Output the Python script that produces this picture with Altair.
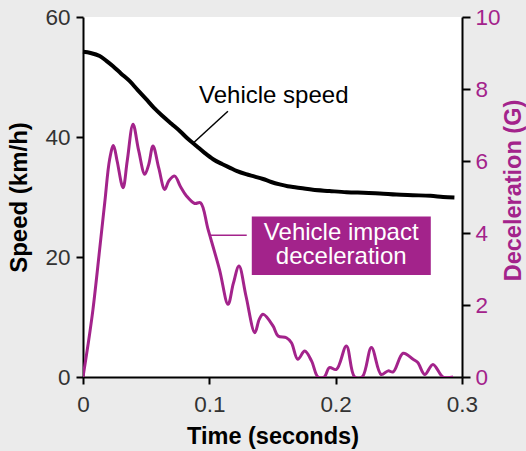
import altair as alt
import pandas as pd

MAG = "#a3238b"
FONT = "Liberation Sans"

# Vehicle speed (km/h) vs time (s)
speed_t = [0.0, 0.006, 0.0132, 0.0185, 0.0238, 0.030, 0.037, 0.043, 0.050, 0.056, 0.063,
           0.070, 0.0766, 0.083, 0.0898, 0.096, 0.103, 0.110, 0.116, 0.122, 0.129, 0.136,
           0.1425, 0.149, 0.1557, 0.162, 0.169, 0.175, 0.182, 0.195, 0.2086, 0.222, 0.235,
           0.248, 0.261, 0.275, 0.285, 0.294]
speed_v = [54.2, 54.0, 53.5, 52.7, 51.8, 50.6, 49.3, 47.9, 46.3, 44.9, 43.5,
           42.2, 41.0, 39.7, 38.5, 37.4, 36.3, 35.5, 34.9, 34.3, 33.8, 33.4,
           33.0, 32.5, 32.1, 31.8, 31.6, 31.4, 31.2, 31.0, 30.8, 30.7, 30.6,
           30.4, 30.3, 30.2, 30.0, 29.9]

# Vehicle impact deceleration (G) vs time (s)
decel_t = [0.0, 0.004, 0.0079, 0.0132, 0.0172, 0.0211, 0.0241, 0.027, 0.0317, 0.035,
           0.0396, 0.044, 0.0489, 0.052, 0.0554, 0.060, 0.0647, 0.068, 0.0726, 0.077,
           0.0819, 0.0884, 0.093, 0.099, 0.108, 0.1148, 0.119, 0.1235, 0.129, 0.136,
           0.1395, 0.1425, 0.1504, 0.1544, 0.161, 0.165, 0.170, 0.1755, 0.181, 0.186,
           0.191, 0.195, 0.2006, 0.2085, 0.215, 0.221, 0.2283, 0.236, 0.2415, 0.2455,
           0.2534, 0.2613, 0.265, 0.2705, 0.277, 0.285, 0.293]
decel_g = [0.0, 0.9, 1.88, 3.55, 4.84, 6.05, 6.43, 6.0, 5.26, 6.0,
           7.02, 6.3, 5.63, 5.9, 6.42, 5.8, 5.21, 5.45, 5.58, 5.3,
           5.03, 4.82, 4.84, 4.10, 2.99, 2.02, 2.6, 3.08, 2.25, 1.23,
           1.6, 1.74, 1.42, 1.14, 1.09, 0.95, 0.49, 0.72, 0.44, 0.0,
           0.0, 0.26, 0.21, 0.86, 0.0, 0.0, 0.82, 0.07, 0.17, 0.14,
           0.66, 0.49, 0.40, 0.07, 0.35, 0.0, 0.0]

x_ticks = [0, 0.1, 0.2, 0.3]
speed_ticks = [0, 20, 40, 60]
decel_ticks = [0, 2, 4, 6, 8, 10]

# annotation anchors (data units)
speed_label = {"t": 0.151, "v": 45.7, "text": "Vehicle speed"}
speed_leader = {"t": 0.1147, "v": 44.3, "t2": 0.0871, "v2": 38.95}
decel_box = {"t": 0.1336, "t2": 0.2753, "g": 4.46, "g2": 2.83}
decel_lines = ["Vehicle impact", "deceleration"]
decel_line_g = [3.81, 3.13]
decel_text_t = 0.2044
decel_leader = {"t": 0.1003, "t2": 0.1296, "g": 3.94}

speed_df = pd.DataFrame({"t": speed_t, "v": speed_v})
decel_df = pd.DataFrame({"t": decel_t, "g": decel_g})

LBL = 22.5
xscale = alt.Scale(domain=[0, 0.3], nice=False)
xaxis = alt.Axis(values=x_ticks, format="~g", title="Time (seconds)", grid=False,
                 domainColor="black", tickColor="black", domainWidth=2, tickWidth=2,
                 tickSize=7, labelFontSize=LBL, labelColor="#333", labelFont=FONT,
                 labelFlush=False, labelPadding=9, titleFont=FONT, titleFontSize=23.5,
                 titleFontWeight="bold", titleColor="black", titlePadding=9)
x_enc = alt.X("t:Q", scale=xscale, axis=xaxis)

sscale = alt.Scale(domain=[0, 60], nice=False)
saxis = alt.Axis(values=speed_ticks, title="Speed (km/h)", grid=False, orient="left",
                 domainColor="black", tickColor="black", domainWidth=2, tickWidth=2,
                 tickSize=7, labelFontSize=LBL, labelColor="#333", labelFont=FONT,
                 labelPadding=6, titleFont=FONT, titleFontSize=24, titleFontWeight="bold",
                 titleColor="black", titlePadding=13)
gscale = alt.Scale(domain=[0, 10], nice=False)
gaxis = alt.Axis(values=decel_ticks, title="Deceleration (G)", grid=False, orient="right",
                 domainColor="black", tickColor="black", domainWidth=2, tickWidth=2,
                 tickSize=8, labelFontSize=LBL, labelColor=MAG, labelFont=FONT,
                 labelPadding=5, titleFont=FONT, titleFontSize=23.5, titleFontWeight="bold",
                 titleColor=MAG, titlePadding=1, titleAngle=270, titleBaseline="top",
                 titleY=173)

speed_line = alt.Chart(speed_df).mark_line(color="black", strokeWidth=4, interpolate="catmull-rom").encode(
    x=x_enc, y=alt.Y("v:Q", scale=sscale, axis=saxis))

sl_df = pd.DataFrame([speed_label])
speed_text = alt.Chart(sl_df).mark_text(font=FONT, fontSize=24, color="black", align="center",
                                         baseline="alphabetic").encode(
    x=alt.X("t:Q", scale=xscale), y=alt.Y("v:Q", scale=sscale), text="text:N")
sld_df = pd.DataFrame([speed_leader])
speed_lead = alt.Chart(sld_df).mark_rule(color="black", strokeWidth=1.5).encode(
    x=alt.X("t:Q", scale=xscale), x2="t2:Q", y=alt.Y("v:Q", scale=sscale), y2="v2:Q")

speed_group = alt.layer(speed_line, speed_lead, speed_text)

decel_line = alt.Chart(decel_df).mark_line(color=MAG, strokeWidth=3, interpolate="catmull-rom",
                                           clip=True).encode(
    x=x_enc, y=alt.Y("g:Q", scale=gscale, axis=gaxis))
box_df = pd.DataFrame([decel_box])
box = alt.Chart(box_df).mark_rect(color=MAG).encode(
    x=alt.X("t:Q", scale=xscale), x2="t2:Q", y=alt.Y("g:Q", scale=gscale), y2="g2:Q")
bt_df = pd.DataFrame({"t": [decel_text_t] * 2, "g": decel_line_g, "text": decel_lines})
box_text = alt.Chart(bt_df).mark_text(font=FONT, fontSize=24, color="white", align="center",
                                       baseline="alphabetic").encode(
    x=alt.X("t:Q", scale=xscale), y=alt.Y("g:Q", scale=gscale), text="text:N")
dl_df = pd.DataFrame([decel_leader])
decel_lead = alt.Chart(dl_df).mark_rule(color=MAG, strokeWidth=1.5).encode(
    x=alt.X("t:Q", scale=xscale), x2="t2:Q", y=alt.Y("g:Q", scale=gscale))

decel_group = alt.layer(decel_line, decel_lead, box, box_text)

chart = alt.layer(speed_group, decel_group).resolve_scale(y="independent").properties(
    width=379, height=360,
    autosize=alt.AutoSizeParams(type="none"),
    padding={"left": 83, "top": 17, "right": 64, "bottom": 74},
    background="#ebebeb",
).configure_view(stroke=None, fill="white")

chart.save("out.html", embed_options={"renderer": "svg", "actions": False})
